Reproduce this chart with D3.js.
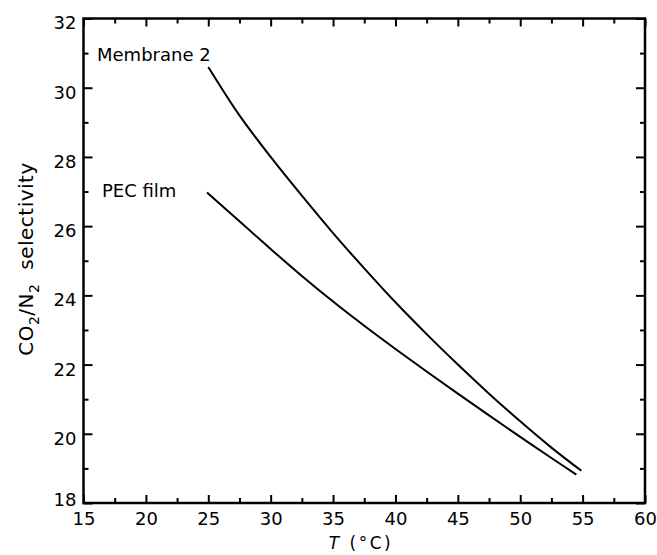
<!DOCTYPE html>
<html>
<head>
<meta charset="utf-8">
<script src="https://cdn.jsdelivr.net/npm/d3@7"></script>
<style>
  body { margin: 0; background: #fff; }
  text { font-family: "DejaVu Sans", sans-serif; fill: #000; }
</style>
</head>
<body>
<div id="chart"></div>
<script>
// data
var membraneT = [25, 27.5, 30, 32.5, 35, 37.5, 40, 42.5, 45, 47.5, 50, 52.5, 54.9];
var membraneSel = [30.6, 29.2, 28.0, 26.88, 25.8, 24.78, 23.8, 22.88, 22.0, 21.16, 20.36, 19.6, 18.93];
var pecT = [24.9, 27.5, 30, 32.5, 35, 37.5, 40, 42.5, 45, 47.5, 50, 52.5, 54.5];
var pecSel = [26.97, 26.14, 25.34, 24.56, 23.82, 23.12, 22.45, 21.8, 21.16, 20.53, 19.91, 19.3, 18.82];
var xTicks = [15, 20, 25, 30, 35, 40, 45, 50, 55, 60];
var yTicks = [18, 20, 22, 24, 26, 28, 30, 32];

var svgWidth = 657;
var svgHeight = 555;

var margin = { top: 18.5, right: 12, bottom: 52, left: 83.5 };
var width = svgWidth - margin.left - margin.right;
var height = svgHeight - margin.top - margin.bottom;

var svg = d3.select('#chart')
    .append('svg')
    .attr('width', svgWidth)
    .attr('height', svgHeight);

var chartGroup = svg.append('g')
    .attr('transform', `translate(${margin.left}, ${margin.top})`);

var x = d3.scaleLinear().domain([15, 60]).range([0, width]);
var y = d3.scaleLinear().domain([18, 32]).range([height, 0]);

var xMinor = d3.range(17.5, 60, 5);
var yMinor = d3.range(19, 32, 2);

function styleAxis(g) {
    g.select('.domain').remove();
    g.selectAll('line').attr('stroke', '#000').attr('stroke-width', 2);
    g.selectAll('text').attr('font-size', 18);
}

// bottom axis (labels) and minor ticks
chartGroup.append('g')
    .attr('transform', `translate(0, ${height})`)
    .call(d3.axisBottom(x).tickValues(xTicks).tickSizeInner(-8).tickSizeOuter(0).tickPadding(9))
    .call(styleAxis);
chartGroup.append('g')
    .attr('transform', `translate(0, ${height})`)
    .call(d3.axisBottom(x).tickValues(xMinor).tickSizeInner(-5).tickSizeOuter(0).tickFormat(''))
    .call(styleAxis);

// top axis ticks
chartGroup.append('g')
    .call(d3.axisTop(x).tickValues(xTicks).tickSizeInner(-8).tickSizeOuter(0).tickFormat(''))
    .call(styleAxis);
chartGroup.append('g')
    .call(d3.axisTop(x).tickValues(xMinor).tickSizeInner(-5).tickSizeOuter(0).tickFormat(''))
    .call(styleAxis);

// left axis
chartGroup.append('g')
    .call(d3.axisLeft(y).tickValues(yTicks).tickSizeInner(-9).tickSizeOuter(0).tickPadding(7))
    .call(styleAxis)
    .selectAll('text').attr('dy', d => d === 18 ? '0.12em' : '0.58em');
chartGroup.append('g')
    .call(d3.axisLeft(y).tickValues(yMinor).tickSizeInner(-5).tickSizeOuter(0).tickFormat(''))
    .call(styleAxis);

// right axis ticks
chartGroup.append('g')
    .attr('transform', `translate(${width}, 0)`)
    .call(d3.axisRight(y).tickValues(yTicks).tickSizeInner(-9).tickSizeOuter(0).tickFormat(''))
    .call(styleAxis);
chartGroup.append('g')
    .attr('transform', `translate(${width}, 0)`)
    .call(d3.axisRight(y).tickValues(yMinor).tickSizeInner(-5).tickSizeOuter(0).tickFormat(''))
    .call(styleAxis);

// frame
chartGroup.append('rect')
    .attr('width', width)
    .attr('height', height)
    .attr('fill', 'none')
    .attr('stroke', '#000')
    .attr('stroke-width', 2.5);

// curves
var line = d3.line()
    .x(d => x(d[0]))
    .y(d => y(d[1]))
    .curve(d3.curveCatmullRom);

[[membraneT, membraneSel], [pecT, pecSel]].forEach(function(s) {
    chartGroup.append('path')
        .datum(d3.zip(s[0], s[1]))
        .attr('d', line)
        .attr('fill', 'none')
        .attr('stroke', '#000')
        .attr('stroke-width', 2);
});

// curve labels
chartGroup.append('text')
    .attr('x', 97 - margin.left)
    .attr('y', 61 - margin.top)
    .attr('font-size', 18)
    .text('Membrane 2');
chartGroup.append('text')
    .attr('x', 102 - margin.left)
    .attr('y', 197 - margin.top)
    .attr('font-size', 18)
    .text('PEC film');

// x label
var xl = svg.append('text')
    .attr('x', 361)
    .attr('y', 549)
    .attr('text-anchor', 'middle')
    .attr('font-size', 17)
    .attr('letter-spacing', 2.5);
xl.append('tspan').attr('font-style', 'italic').text('T');
xl.append('tspan').text(' (°C)');

// y label
var yl = svg.append('text')
    .attr('transform', 'translate(33, 259) rotate(-90)')
    .attr('text-anchor', 'middle')
    .attr('font-size', 20)
    .attr('letter-spacing', 0.5);
yl.append('tspan').text('CO');
yl.append('tspan').attr('font-size', 14).attr('dy', 6).text('2');
yl.append('tspan').attr('dy', -6).text('/N');
yl.append('tspan').attr('font-size', 14).attr('dy', 6).text('2');
yl.append('tspan').attr('dy', -6).attr('xml:space', 'preserve').text('\u00a0 selectivity');
</script>
</body>
</html>
